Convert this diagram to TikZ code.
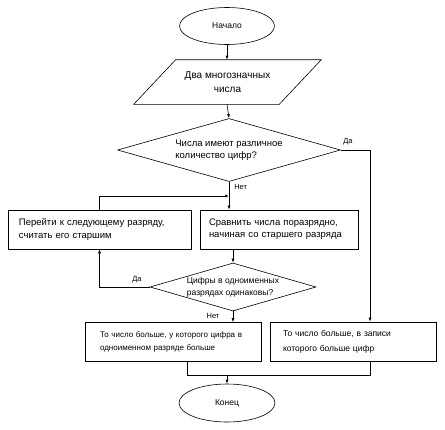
\documentclass[tikz,border=0pt]{standalone}
\usepackage{fontspec}
\setmainfont{Liberation Sans}
\usetikzlibrary{shapes.geometric,arrows.meta}

\begin{document}
\begin{tikzpicture}[x=1pt,y=-1pt,line width=0.6pt,>={Latex[length=4pt,width=3pt]},
  font=\fontsize{9.5}{13.5}\selectfont,
  term/.style={draw,ellipse,minimum width=95pt,minimum height=37pt,inner sep=0pt,
    font=\fontsize{8.5}{10}\selectfont},
  proc/.style={draw,rectangle,minimum height=39pt,inner ysep=0pt,align=left},
  cond/.style={draw,diamond,inner sep=-6pt,align=left},
  note/.style={font=\fontsize{7.5}{9}\selectfont,inner sep=1pt}]
\useasboundingbox (0,0) rectangle (445,429);
% terminals and data
\node[term] (start) at (227,26) {Начало};
\node[minimum width=145pt,minimum height=44pt,inner sep=0pt,align=center,
  font=\fontsize{10}{13.5}\selectfont] (input) at (227.5,82) {Два многозначных\\числа};
\draw ([xshift=21pt]input.north west) -- ([xshift=21pt]input.north east)
  -- ([xshift=-21pt]input.south east) -- ([xshift=-21pt]input.south west) -- cycle;
\node[cond,minimum width=223pt,minimum height=63pt,aspect=3.5,
  font=\fontsize{9.5}{12}\selectfont] (q1) at (229,150)
  {Числа имеют различное\\количество цифр?};
% middle row
\node[proc,text width=161pt,inner xsep=11pt] (next) at (99.5,229.5)
  {Перейти к следующему разряду,\\считать его старшим};
\node[proc,text width=140pt,inner xsep=9pt,font=\fontsize{9.5}{12}\selectfont] (cmp) at (279,229.5)
  {Сравнить числа поразрядно,\\начиная со старшего разряда};
\node[cond,minimum width=166pt,minimum height=48pt,aspect=3.46,
  font=\fontsize{8.5}{12}\selectfont] (q2) at (233,287)
  {Цифры в одноименных\\разрядах одинаковы?};
% results
\node[proc,text width=146pt,inner xsep=15pt,font=\fontsize{8}{13.5}\selectfont] (res1) at (173,342)
  {То число больше, у которого цифра в\\одноименном разряде больше};
\node[proc,text width=140pt,inner xsep=13pt,font=\fontsize{8.5}{15}\selectfont] (res2) at (353,341.5)
  {То число больше, в записи\\которого больше цифр};
\node[term,minimum width=96pt,minimum height=38pt] (finish) at (227,403) {Конец};
\coordinate (yesx) at (370,150);
\coordinate (back) at (229,196);
\coordinate (merge) at (227,375);
% connectors
\draw[->] (start) -- (input.north -| start);
\draw[->] (input.south -| start) -- (q1.north);
\draw[->] (q1.east) -- (yesx) -- (yesx |- res2.north);
\draw[->] (q1.south) -- (q1.south |- cmp.north);
\draw[->] (next.north) |- (back);
\draw[->] (q2.north |- cmp.south) -- (q2.north);
\draw[->] (q2.west) -| (next.south);
\draw[->] (q2.south) -- (q2.south |- res1.north);
\draw ([xshift=14pt]res1.south) |- (merge);
\draw (yesx |- res2.south) |- (merge);
\draw[->] (merge) -- (finish);
% branch labels
\node[note] (yes1) at (348,142) {Да};
\node[note,anchor=west] (no1) at (233,187) {Нет};
\node[note] (yes2) at (137,280) {Да};
\node[note] (no2) at (213,316) {Нет};
\end{tikzpicture}
\end{document}
